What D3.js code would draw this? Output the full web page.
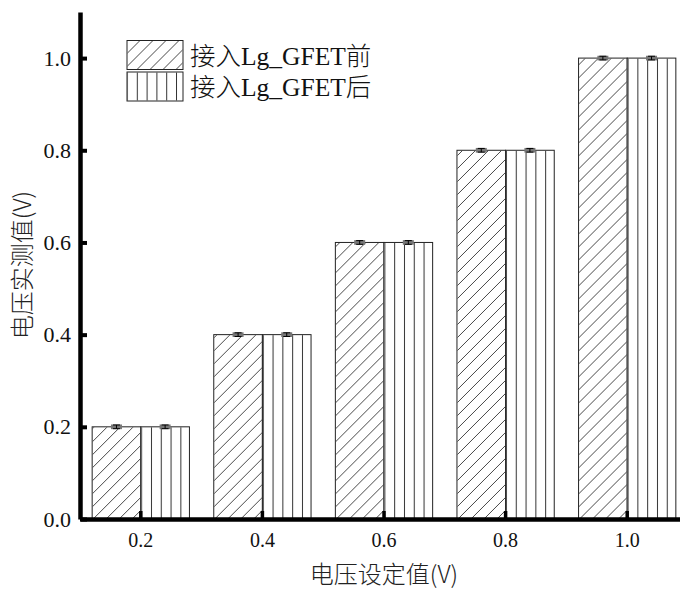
<!DOCTYPE html>
<html>
<head>
<meta charset="utf-8">
<script src="https://cdn.jsdelivr.net/npm/d3@7"></script>
<style>
	body { margin: 0; background: #fff; }
	svg { display: block; }
</style>
</head>
<body>
<svg id="chart" width="680" height="592"></svg>
<script>
"use strict";

const categories = ["0.2", "0.4", "0.6", "0.8", "1.0"];
const series_names = ["接入Lg_GFET前", "接入Lg_GFET后"];
const before = [0.2, 0.4, 0.6, 0.8, 1.0];
const after = [0.2, 0.4, 0.6, 0.8, 1.0];
const err_before = [0.004, 0.004, 0.004, 0.004, 0.004];
const err_after = [0.004, 0.004, 0.004, 0.004, 0.004];
const y_ticks = [0, 0.2, 0.4, 0.6, 0.8, 1.0];

(() => {
	const svg = d3.select('#chart');
	const serif = '"Liberation Serif", "Times New Roman", serif';
	const cjk = '"Liberation Serif", "Noto Sans CJK SC", serif';
	const sans = '"Noto Sans CJK SC", "Noto Sans", sans-serif';

	const x0 = 80, y0 = 519;
	const x = d3.scaleBand().domain(categories).range([x0, 688])
		.paddingInner(0.2).paddingOuter(0.1);
	const xs = d3.scaleBand().domain([0, 1]).range([0, x.bandwidth()]);
	const y = d3.scaleLinear().domain([0, 1.1]).range([y0, 12]);

	// hatch patterns
	const defs = svg.append('defs');
	const diag = defs.append('pattern').attr('id', 'hatch-diag')
		.attr('patternUnits', 'userSpaceOnUse').attr('width', 13).attr('height', 13);
	diag.append('path').attr('d', 'M0,13 L13,0 M-3,3 L3,-3 M10,16 L16,10')
		.attr('stroke', '#333').attr('stroke-width', 0.9);
	const vert = defs.append('pattern').attr('id', 'hatch-vert')
		.attr('patternUnits', 'userSpaceOnUse').attr('width', 9.8).attr('height', 10);
	vert.append('line').attr('x1', 0.5).attr('x2', 0.5).attr('y1', 0).attr('y2', 10)
		.attr('stroke', '#333').attr('stroke-width', 1);
	const fills = ['url(#hatch-diag)', 'url(#hatch-vert)'];

	const rows = categories.map((c, i) => ({
		cat: c,
		vals: [
			{ s: 0, v: before[i], e: err_before[i] },
			{ s: 1, v: after[i], e: err_after[i] },
		],
	}));

	const g_bars = svg.append('g').attr('class', 'bars');
	const groups = g_bars.selectAll('g.group').data(rows).enter()
		.append('g').attr('class', 'group')
		.attr('transform', (d) => `translate(${x(d.cat)},0)`);
	groups.selectAll('rect.bar').data((d) => d.vals).enter()
		.append('rect').attr('class', 'bar')
		.attr('x', (d) => xs(d.s))
		.attr('y', (d) => y(d.v))
		.attr('width', xs.bandwidth())
		.attr('height', (d) => y(0) - y(d.v))
		.attr('fill', '#fff')
		.attr('stroke', '#222').attr('stroke-width', 1);
	groups.selectAll('rect.hatch').data((d) => d.vals).enter()
		.append('rect').attr('class', 'hatch')
		.attr('x', (d) => xs(d.s) + 0.5)
		.attr('y', (d) => y(d.v) + 0.5)
		.attr('width', xs.bandwidth() - 1)
		.attr('height', (d) => y(0) - y(d.v) - 1)
		.attr('fill', (d) => fills[d.s]);

	// error bars
	const err = groups.selectAll('g.err').data((d) => d.vals).enter()
		.append('g').attr('class', 'err')
		.attr('transform', (d) => `translate(${xs(d.s) + xs.bandwidth() / 2},0)`);
	err.append('rect')
		.attr('x', -5.5).attr('width', 11)
		.attr('y', (d) => y(d.v + d.e) - 0.5)
		.attr('height', (d) => y(d.v - d.e) - y(d.v + d.e) + 1)
		.attr('fill', '#777');
	err.append('path')
		.attr('d', (d) => `M-3.5,${y(d.v + d.e)}H3.5M0,${y(d.v + d.e)}V${y(d.v - d.e)}M-3.5,${y(d.v - d.e)}H3.5`)
		.attr('stroke', '#000').attr('stroke-width', 1).attr('fill', 'none');

	// axes
	const y_axis = svg.append('g').attr('transform', `translate(${x0},0)`)
		.call(d3.axisLeft(y).tickValues(y_ticks).tickFormat(d3.format('.1f'))
			.tickSizeInner(-7).tickSizeOuter(0).tickPadding(9));
	const x_axis = svg.append('g').attr('transform', `translate(0,${y0})`)
		.call(d3.axisBottom(x).tickSizeInner(-8).tickSizeOuter(0).tickPadding(14));
	[y_axis, x_axis].forEach((ax) => {
		ax.select('.domain').attr('stroke', '#000').attr('stroke-width', 4.5);
		ax.selectAll('.tick line').attr('stroke', '#000');
		ax.selectAll('.tick text')
			.attr('font-family', serif).attr('font-size', 22).attr('fill', '#111');
	});
	y_axis.selectAll('.tick line').attr('stroke-width', 4);
	x_axis.selectAll('.tick line').attr('stroke-width', 3.5);
	x_axis.selectAll('.tick text').attr('font-size', 20);

	// axis titles
	svg.append('text')
		.attr('x', 384).attr('y', 583)
		.attr('text-anchor', 'middle')
		.attr('font-family', sans).attr('font-size', 24).attr('font-weight', 300).attr('fill', '#222')
		.text('电压设定值(V)');
	svg.append('text')
		.attr('transform', 'translate(31,265) rotate(-90)')
		.attr('text-anchor', 'middle')
		.attr('font-family', sans).attr('font-size', 24).attr('font-weight', 300).attr('fill', '#222')
		.text('电压实测值(V)');

	// legend
	const legend = svg.append('g').attr('class', 'legend');
	const items = legend.selectAll('g').data(series_names).enter()
		.append('g').attr('transform', (d, i) => `translate(127,${40.5 + i * 31.5})`);
	items.append('rect')
		.attr('width', 56).attr('height', 29)
		.attr('fill', '#fff').attr('stroke', '#222').attr('stroke-width', 1);
	items.append('rect')
		.attr('x', 0.5).attr('y', 0.5).attr('width', 55).attr('height', 28)
		.attr('fill', (d, i) => fills[i]);
	items.append('text')
		.attr('x', 63).attr('y', 24)
		.attr('font-family', cjk).attr('font-size', 25.5).attr('font-weight', 300).attr('fill', '#111')
		.text((d) => d);
})();
</script>
</body>
</html>
